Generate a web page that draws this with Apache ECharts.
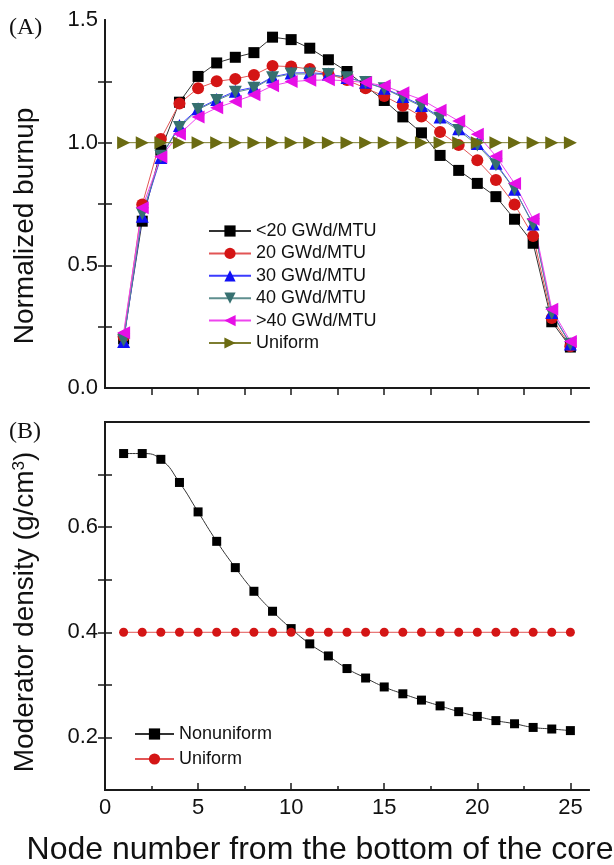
<!DOCTYPE html>
<html>
<head>
<meta charset="utf-8">
<script src="https://cdn.jsdelivr.net/npm/echarts@6/dist/echarts.min.js"></script>
<style>html,body{margin:0;padding:0;background:#fff}#c{width:614px;height:865px}</style>
</head>
<body>
<div id="c"></div>
<script>
// ---------- data ----------
const nodes = [1,2,3,4,5,6,7,8,9,10,11,12,13,14,15,16,17,18,19,20,21,22,23,24,25];
const burnLt20 = [0.20,0.68,0.97,1.165,1.27,1.325,1.348,1.367,1.43,1.42,1.385,1.338,1.29,1.23,1.172,1.105,1.04,0.948,0.887,0.834,0.78,0.688,0.59,0.27,0.167];
const burn20   = [0.21,0.748,1.015,1.16,1.222,1.25,1.26,1.276,1.313,1.31,1.30,1.28,1.255,1.222,1.19,1.15,1.107,1.043,0.99,0.928,0.848,0.748,0.62,0.285,0.17];
const burn30   = [0.19,0.70,0.94,1.07,1.138,1.176,1.21,1.226,1.268,1.284,1.285,1.28,1.266,1.246,1.222,1.188,1.152,1.105,1.057,0.997,0.916,0.81,0.668,0.308,0.179];
const burn40   = [0.195,0.71,0.945,1.062,1.135,1.172,1.205,1.222,1.265,1.28,1.28,1.278,1.265,1.245,1.22,1.184,1.148,1.1,1.05,0.99,0.91,0.81,0.665,0.305,0.178];
const burnGt40 = [0.225,0.735,0.943,1.035,1.105,1.142,1.168,1.195,1.232,1.249,1.254,1.256,1.252,1.245,1.232,1.203,1.176,1.132,1.088,1.034,0.945,0.834,0.688,0.321,0.19];
const burnUniform = [1,1,1,1,1,1,1,1,1,1,1,1,1,1,1,1,1,1,1,1,1,1,1,1,1];
const densNonuniform = [0.740,0.740,0.729,0.685,0.629,0.573,0.523,0.478,0.440,0.407,0.378,0.355,0.331,0.313,0.296,0.283,0.271,0.260,0.249,0.240,0.232,0.226,0.219,0.216,0.213];
const densUniform = [0.40,0.40,0.40,0.40,0.40,0.40,0.40,0.40,0.40,0.40,0.40,0.40,0.40,0.40,0.40,0.40,0.40,0.40,0.40,0.40,0.40,0.40,0.40,0.40,0.40];

const xTicksMinor = [2.5,5,7.5,10,12.5,15,17.5,20,22.5,25];
const xLabels = [0,5,10,15,20,25];
const xMinorOnly = [2.5,7.5,12.5,17.5,22.5];
const yTopTicks = [0.25,0.5,0.75,1.0,1.25];
const yTopLabels = [0,0.5,1.0,1.5];
const yBotTicks = [0.2,0.3,0.4,0.5,0.6,0.7];
const yBotLabels = [0.2,0.4,0.6];

const pairs = arr => nodes.map((n,i)=>[n,arr[i]]);

const FONT = '"Liberation Sans", Arial, sans-serif';
const AX = '#1a1a1a';
const lineCommon = {show:true, lineStyle:{color:AX, width:2}};

function xAx(grid, pos, tickVals, tickLen, labelVals){
  return {
    type:'value', gridIndex:grid, position:pos, min:0, max:26,
    axisLine: lineCommon,
    axisTick: tickVals ? {show:true, inside:true, length:tickLen, customValues:tickVals, lineStyle:{color:AX,width:1.5}} : {show:false},
    axisLabel: labelVals ? {show:true, customValues:labelVals, margin:7, color:'#111', fontSize:22, fontFamily:FONT, showMinLabel:true, showMaxLabel:true} : {show:false},
    splitLine:{show:false}
  };
}
function yAx(grid, pos, min, max, tickVals, labelVals){
  return {
    type:'value', gridIndex:grid, position:pos, min:min, max:max,
    axisLine: lineCommon,
    axisTick: {show:true, inside:true, length:7, customValues:tickVals, lineStyle:{color:AX,width:1.5}},
    axisLabel: labelVals ? {show:true, customValues:labelVals, margin:7, color:'#111', fontSize:22, fontFamily:FONT, showMinLabel:true, showMaxLabel:true, formatter:v=>Number(v).toFixed(1)} : {show:false},
    splitLine:{show:false}
  };
}

function ser(name, arr, xi, yi, color, lineColor, symbol, size, rot, smooth){
  return {
    name, type:'line', xAxisIndex:xi, yAxisIndex:yi, data:pairs(arr),
    symbol, symbolSize:size, symbolRotate:rot||0, smooth:!!smooth,
    itemStyle:{color, borderWidth:0},
    lineStyle:{color:lineColor, width:1},
    emphasis:{disabled:true}, animation:false
  };
}

const chart = echarts.init(document.getElementById('c'), null, {renderer:'canvas'});
chart.setOption({
  animation:false,
  grid:[
    {left:105, top:20, width:484, height:368},
    {left:105, top:422, width:484, height:368}
  ],
  xAxis:[
    xAx(0,'bottom',null,0,null),
    xAx(0,'top',xTicksMinor,7,null),
    xAx(1,'bottom',xLabels,7,xLabels),
    xAx(1,'bottom',xMinorOnly,4,null),
    xAx(1,'top',null,0,null)
  ],
  yAxis:[
    yAx(0,'left',0,1.5,yTopTicks,yTopLabels),
    yAx(0,'right',0,1.5,yTopTicks,null),
    yAx(1,'left',0.1,0.8,yBotTicks,yBotLabels),
    yAx(1,'right',0.1,0.8,yBotTicks,null)
  ],
  legend:[
    {
      data:['<20 GWd/MTU','20 GWd/MTU','30 GWd/MTU','40 GWd/MTU','>40 GWd/MTU','Uniform'],
      orient:'vertical', left:208, top:222, padding:0, itemGap:4.4,
      itemWidth:42, itemHeight:14, selectedMode:false,
      textStyle:{fontSize:18, lineHeight:18, fontFamily:FONT, color:'#111'}
    },
    {
      data:['Nonuniform','Uniform '],
      orient:'vertical', left:134, top:725, padding:0, itemGap:7,
      itemWidth:39, itemHeight:14, selectedMode:false,
      textStyle:{fontSize:18, lineHeight:18, fontFamily:FONT, color:'#111'}
    }
  ],
  series:[
    ser('<20 GWd/MTU', burnLt20, 0,0,'#000000','#333333','rect',11,0),
    ser('20 GWd/MTU', burn20, 0,0,'#d41515','#e25555','circle',12,0),
    ser('30 GWd/MTU', burn30, 0,0,'#1010f5','#3b3bff','triangle',13,0),
    ser('40 GWd/MTU', burn40, 0,0,'#367070','#5f8f8f','triangle',13,180),
    ser('>40 GWd/MTU', burnGt40, 0,0,'#e60fe6','#ee44ee','triangle',13,90),
    ser('Uniform', burnUniform, 0,0,'#6b6b12','#7d7d30','triangle',13,-90),
    ser('Nonuniform', densNonuniform, 2,2,'#000000','#333333','rect',9,0,0.3),
    ser('Uniform ', densUniform, 2,2,'#d41515','#e25555','circle',9,0)
  ],
  graphic:[
    {type:'text', left:9, top:16, style:{text:'(A)', font:'24px "Liberation Serif", "DejaVu Serif", serif', fill:'#111'}},
    {type:'text', left:9, top:420, style:{text:'(B)', font:'24px "Liberation Serif", "DejaVu Serif", serif', fill:'#111'}},
    {type:'text', x:25, y:226, rotation:Math.PI/2, style:{text:'Normalized burnup', font:'28px "Liberation Sans", Arial, sans-serif', fill:'#111', textAlign:'center', textVerticalAlign:'middle'}},
    {type:'text', x:25, y:612, rotation:Math.PI/2, style:{
      text:'{a|Moderator density (g/cm}{s|3}{a|)}',
      textAlign:'center', textVerticalAlign:'middle',
      rich:{a:{font:'28px "Liberation Sans", Arial, sans-serif', fill:'#111', color:'#111'}, s:{font:'17px "Liberation Sans", Arial, sans-serif', fill:'#111', color:'#111', verticalAlign:'top', padding:[0,0,12,0]}}
    }},
    {type:'text', x:320, y:850, style:{text:'Node number from the bottom of the core', font:'32px "Liberation Sans", Arial, sans-serif', fill:'#111', textAlign:'center', textVerticalAlign:'middle'}}
  ]
});
</script>
</body>
</html>
